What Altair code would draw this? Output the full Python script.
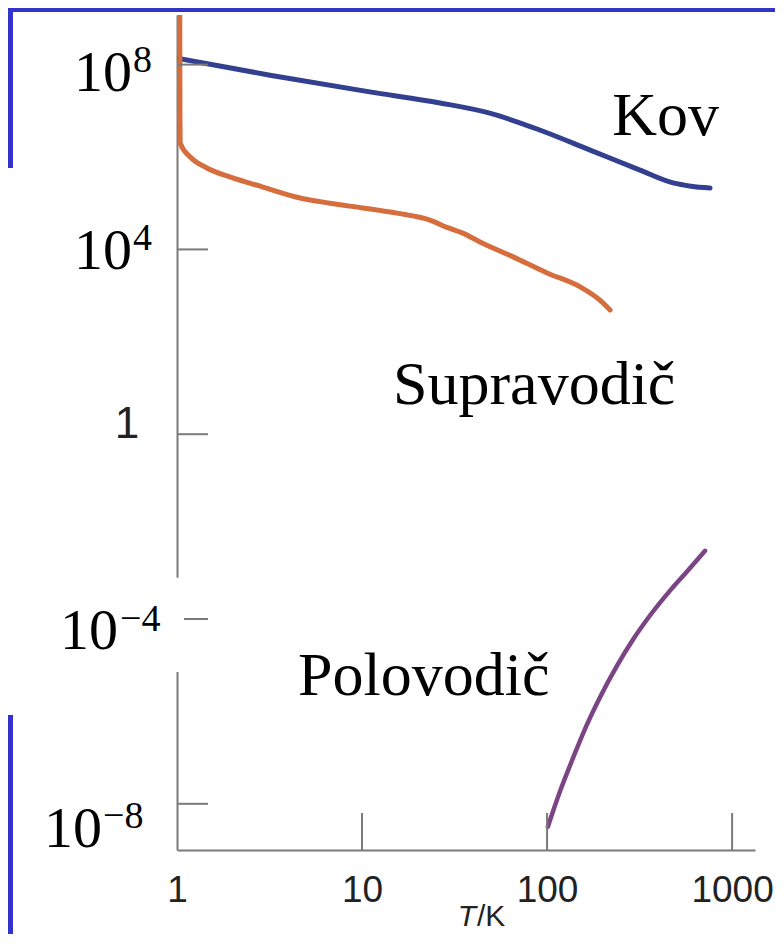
import altair as alt
import pandas as pd

# ---- data ----
T_metal = [1, 3.18, 11, 26.4, 49, 92, 171, 318, 480, 600, 760]
s_metal = [1.38e8, 5.9e7, 2.57e7, 1.48e7, 8.9e6, 3.8e6, 1.41e6, 5.2e5, 2.75e5, 2.34e5, 2.14e5]

T_super = [1.035, 1.037, 1.04, 1.18, 1.45, 1.93, 2.91, 4.45, 6.71, 10.1, 15.4, 23.3,
           28.8, 35.1, 43.4, 65.5, 100, 151, 193, 219]
s_super = [1.17e9, 1.0e7, 2.0e6, 1.0e6, 5.8e5, 3.7e5, 2.24e5, 1.35e5, 1.0e5, 7.9e4,
           6.1e4, 4.3e4, 3.0e4, 2.25e4, 1.45e4, 6.9e3, 3.1e3, 1.55e3, 800, 490]

T_semi = [101, 117, 138, 164, 193, 239, 291, 360, 462, 571, 714]
s_semi = [3.2e-9, 1.78e-8, 9.7e-8, 5.1e-7, 2.0e-6, 9.8e-6, 3.56e-5, 1.19e-4, 4.12e-4,
          1.07e-3, 3.0e-3]

x_ticks = [1, 10, 100, 1000]
y_ticks = [1e8, 1e4, 1, 1e-4, 1e-8]
y_pow_vals = [1e8, 1e4, 1e-4, 1e-8]
y_pow_exp = ["8", "4", "\u22124", "\u22128"]

series_names = ["Kov", "Supravodič", "Polovodič"]
series_label_T = [225, 14.7, 4.51]
series_label_s = [3.0e6, 4.5, 2.26e-6]

# ---- styles ----
W, H = 578, 835
SERIF = "Liberation Serif, Times New Roman, serif"
SANS = "Liberation Sans, Arial, Helvetica, sans-serif"
AXIS_GREY = "#7a7a7a"
FRAME_BLUE = "#3333cc"

xs = alt.Scale(type="log", domain=[1, 1330], nice=False)
ys = alt.Scale(type="log", domain=[1e-9, 1.186e9], nice=False)

x_axis = alt.Axis(values=x_ticks, format="d", domain=True, domainColor=AXIS_GREY,
                  domainWidth=2, ticks=False, grid=False, title=None,
                  labelFont=SANS, labelFontSize=37, labelColor="#222222",
                  labelPadding=22, labelFlush=False, labelOverlap=False)
y_axis = alt.Axis(domain=True, domainColor=AXIS_GREY, domainWidth=2, ticks=False,
                  labels=False, grid=False, title=None)


def X(field):
    return alt.X(field, scale=xs, axis=x_axis)


def Y(field):
    return alt.Y(field, scale=ys, axis=y_axis)


def line(T, s, color, width):
    return alt.Chart(pd.DataFrame({"T": T, "s": s})).mark_line(
        color=color, strokeWidth=width, interpolate="monotone", clip=True,
        strokeCap="round"
    ).encode(x=X("T:Q"), y=Y("s:Q"))


metal = line(T_metal, s_metal, "#33408f", 5)
superc = line(T_super, s_super, "#d66d3d", 5)
semi = line(T_semi, s_semi, "#7b4585", 4.5)

# inward ticks
yt = alt.Chart(pd.DataFrame({"v": y_ticks})).mark_rule(color=AXIS_GREY, strokeWidth=2).encode(
    y=Y("v:Q"), x=alt.value(0), x2=alt.value(31))
xt = alt.Chart(pd.DataFrame({"t": x_ticks[1:]})).mark_rule(color=AXIS_GREY, strokeWidth=2).encode(
    x=X("t:Q"), y=alt.value(H), y2=alt.value(H - 37))

# white patch covering the axis behind the 10^-4 label
mask = alt.Chart(pd.DataFrame({"a": [7.8e-4], "b": [7.1e-6]})).mark_rect(color="white").encode(
    x=alt.value(-4), x2=alt.value(7), y=Y("a:Q"), y2="b:Q")

# y tick labels: 10^n in serif with superscripts
label_style = {  # per label: (base right x, base dy, sup left x, sup dy)
    "8": (-45, 26, -44, 7),
    "4": (-45, 20, -44, 1),
    "\u22124": (-59, 30, -57, 12),
    "\u22128": (-75, 43, -74, 24),
}
ylabels = []
for v, e in zip(y_pow_vals, y_pow_exp):
    bx, bdy, sx, sdy = label_style[e]
    d = pd.DataFrame({"v": [v], "base": ["10"], "sup": [e]})
    ylabels.append(alt.Chart(d).mark_text(
        font=SERIF, fontSize=58, align="right", baseline="alphabetic", dy=bdy, color="black"
    ).encode(y=Y("v:Q"), x=alt.value(bx), text="base:N"))
    ylabels.append(alt.Chart(d).mark_text(
        font=SERIF, fontSize=38, align="left", baseline="alphabetic", dy=sdy, color="black"
    ).encode(y=Y("v:Q"), x=alt.value(sx), text="sup:N"))

one_label = alt.Chart(pd.DataFrame({"v": [1], "txt": ["1"]})).mark_text(
    font=SANS, fontSize=44, align="center", baseline="alphabetic", dy=4, color="#222222"
).encode(y=Y("v:Q"), x=alt.value(-50), text="txt:N")

# series names
names = alt.Chart(pd.DataFrame({"T": series_label_T, "s": series_label_s, "n": series_names})).mark_text(
    font=SERIF, fontSize=62, align="left", baseline="alphabetic", color="black"
).encode(x=X("T:Q"), y=Y("s:Q"), text="n:N")

# x axis title T/K
t_it = alt.Chart(pd.DataFrame({"txt": ["T"]})).mark_text(
    font=SANS, fontSize=30, fontStyle="italic", align="right", baseline="alphabetic", color="#222222"
).encode(x=alt.value(299), y=alt.value(H + 76), text="txt:N")
t_k = alt.Chart(pd.DataFrame({"txt": ["/K"]})).mark_text(
    font=SANS, fontSize=30, align="left", baseline="alphabetic", color="#222222"
).encode(x=alt.value(300), y=alt.value(H + 76), text="txt:N")

# slide frame pieces
fr_top = alt.Chart(pd.DataFrame({"k": [0]})).mark_rect(color=FRAME_BLUE).encode(
    x=alt.value(-169), x2=alt.value(598), y=alt.value(-7), y2=alt.value(-3))
fr_l1 = alt.Chart(pd.DataFrame({"k": [0]})).mark_rect(color=FRAME_BLUE).encode(
    x=alt.value(-169), x2=alt.value(-164), y=alt.value(-7), y2=alt.value(153))
fr_l2 = alt.Chart(pd.DataFrame({"k": [0]})).mark_rect(color=FRAME_BLUE).encode(
    x=alt.value(-169), x2=alt.value(-164), y=alt.value(700), y2=alt.value(930))

chart = alt.layer(
    metal, superc, semi, yt, xt, mask, *ylabels, one_label, names, t_it, t_k,
    fr_top, fr_l1, fr_l2
).properties(
    width=W, height=H,
    padding={"left": 169, "top": 7, "right": 20, "bottom": 84},
    autosize=alt.AutoSizeParams(type="none"),
    background="white",
).configure_view(strokeWidth=0)

chart.save("out.html", embed_options={"renderer": "svg", "actions": False})
